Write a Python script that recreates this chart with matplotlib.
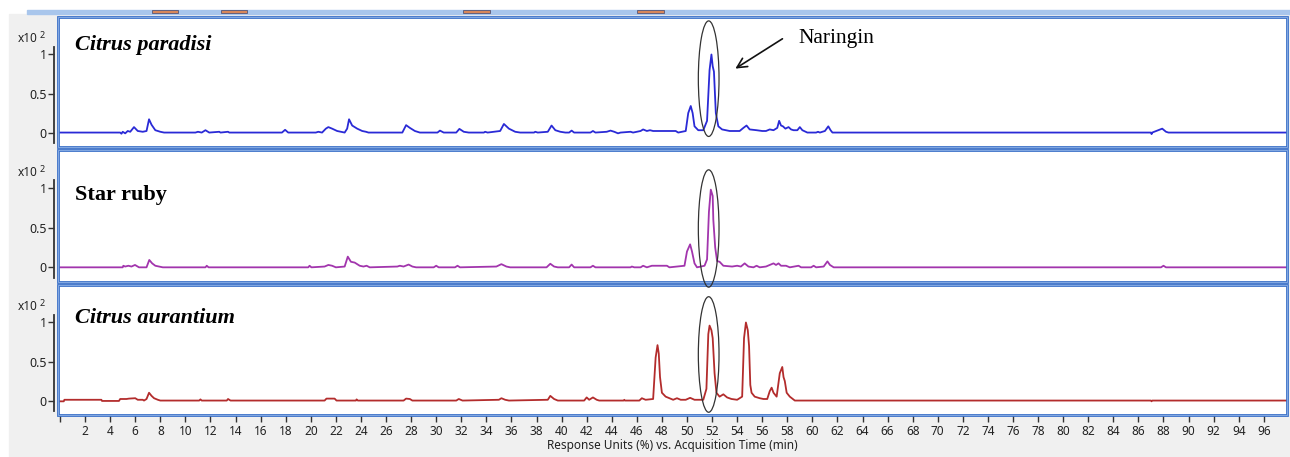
import numpy as np
import matplotlib
matplotlib.use('Agg')
import matplotlib.pyplot as plt
from matplotlib.patches import Ellipse, Rectangle

# chromatogram traces (time in min, response in x10^2 %)
paradisi_t = [0, 4.8, 4.9, 5.0, 5.2, 5.4, 5.6, 5.9, 6.2, 6.6, 6.9, 7.1, 7.3, 7.6, 8.0, 8.3,
              10.8, 11.0, 11.3, 11.6, 11.9, 12.7, 12.8, 13.4, 13.5, 17.7, 17.95, 18.2,
              20.4, 20.6, 20.9, 21.2, 21.4, 21.7, 22.1, 22.7, 22.9, 23.05, 23.3, 23.7, 24.1, 24.4, 24.6,
              27.3, 27.6, 27.9, 28.3, 28.7, 30.1, 30.3, 30.6, 31.6, 31.85, 32.2, 32.6,
              33.8, 33.9, 34.1, 35.1, 35.4, 35.8, 36.3, 36.7, 37.8, 37.9, 38.1,
              38.9, 39.2, 39.5, 39.9, 40.3, 40.6, 40.8, 41.0, 42.3, 42.5, 42.7,
              43.6, 43.9, 44.2, 44.5, 44.7, 45.5, 45.7, 46.3, 46.5, 46.8, 47.05, 47.3,
              49.1, 49.3, 49.9, 50.1, 50.3, 50.45, 50.6, 50.9, 51.3, 51.6, 51.8, 51.95,
              52.05, 52.15, 52.3, 52.5, 52.8, 53.4, 54.2, 54.5, 54.75, 55.0, 55.55, 56.0,
              56.3, 56.6, 56.9, 57.2, 57.35, 57.5, 57.65, 57.85, 58.1, 58.3, 58.5, 58.8,
              59.0, 59.2, 59.6, 60.3, 60.45, 60.6, 61.0, 61.27, 61.45, 61.6,
              87.0, 87.05, 87.1, 87.9, 88.2, 88.4, 97.9]
paradisi_y = [0, 0, -0.015, 0.01, -0.01, 0.02, 0.01, 0.07, 0.02, 0.01, 0.02, 0.17, 0.10, 0.03, 0.01, 0,
              0, 0.01, 0, 0.03, 0, 0.01, 0, 0.01, 0, 0, 0.035, 0,
              0, 0.01, 0, 0.05, 0.07, 0.05, 0.02, 0, 0.05, 0.17, 0.09, 0.05, 0.02, 0.01, 0,
              0, 0.095, 0.06, 0.02, 0, 0, 0.025, 0, 0, 0.047, 0.01, 0,
              0, 0.01, 0, 0.02, 0.11, 0.05, 0.01, 0, 0, 0.01, 0,
              0.01, 0.09, 0.03, 0.01, 0, 0, 0.025, 0, 0, 0.02, 0,
              0.01, 0.025, 0.01, -0.01, 0, 0.01, 0, 0.02, 0.04, 0.02, 0.03, 0.02,
              0.02, 0, 0.02, 0.25, 0.34, 0.25, 0.08, 0.03, 0.03, 0.15, 0.8, 1.0,
              0.85, 0.78, 0.25, 0.08, 0.04, 0.02, 0.02, 0.06, 0.09, 0.04, 0.03, 0.02,
              0.02, 0.04, 0.03, 0.06, 0.15, 0.09, 0.08, 0.05, 0.07, 0.04, 0.03, 0.03,
              0.07, 0.03, 0, 0, 0.01, 0, 0.02, 0.08, 0.03, 0,
              0, -0.02, 0, 0.05, 0.01, 0, 0]

starruby_t = [0, 5.0, 5.05, 5.2, 5.45, 5.7, 5.98, 6.3, 6.9, 7.12, 7.35, 7.6, 7.9, 8.2,
              11.6, 11.7, 11.85, 19.8, 19.9, 20.05, 21.1, 21.4, 21.7, 22.0, 22.7, 22.95, 23.2,
              23.5, 23.9, 24.2, 24.45, 24.7, 26.9, 27.1, 27.4, 27.8, 28.1, 28.4,
              29.8, 30.0, 30.2, 31.5, 31.7, 31.9, 34.8, 35.2, 35.6, 35.9, 38.8, 39.1, 39.4, 39.7,
              40.6, 40.8, 41.0, 42.3, 42.5, 42.7, 45.5, 45.6, 45.8, 46.3, 46.5, 46.8, 47.2, 48.4, 48.6,
              49.8, 50.0, 50.25, 50.4, 50.6, 50.8, 51.4, 51.6, 51.75, 51.9, 52.05, 52.1, 52.25,
              52.4, 52.6, 52.9, 53.6, 54.0, 54.3, 54.6, 54.9, 55.3, 55.55, 55.8, 56.3, 56.6,
              56.9, 57.1, 57.3, 57.5, 57.9, 58.2, 58.9, 59.1, 59.9, 60.1, 60.3, 60.9, 61.2, 61.4, 61.7,
              87.8, 88.0, 88.2, 97.9]
starruby_y = [0, 0, 0.02, 0.01, 0.02, 0.01, 0.03, 0, 0, 0.093, 0.05, 0.02, 0.01, 0,
              0, 0.02, 0, 0, 0.02, 0, 0.01, 0.03, 0.02, 0, 0.01, 0.135, 0.07,
              0.06, 0.02, 0.01, 0.02, 0, 0.01, 0.02, 0.01, 0.035, 0.01, 0,
              0, 0.02, 0, 0, 0.02, 0, 0.01, 0.04, 0.01, 0, 0, 0.045, 0.01, 0,
              0, 0.035, 0, 0, 0.02, 0, 0, 0.01, 0, 0, 0.02, 0, 0.02, 0.02, 0,
              0.02, 0.2, 0.29, 0.2, 0.05, 0, 0.02, 0.1, 0.7, 0.98, 0.9, 0.6, 0.25,
              0.08, 0.07, 0.02, 0.01, 0.02, 0.01, 0.05, 0.01, 0, 0.02, 0, 0.01, 0.03,
              0.05, 0.03, 0.05, 0.02, 0.02, 0, 0.02, 0, 0, 0.02, 0, 0.01, 0.075, 0.03, 0,
              0, 0.02, 0, 0]

aurantium_t = [0, 0.3, 0.35, 3.3, 3.35, 4.7, 4.8, 5.3, 5.5, 6.0, 6.2, 6.6, 6.7, 6.9, 7.1, 7.3, 7.5, 7.8, 8.0,
               11.1, 11.2, 11.3, 13.3, 13.4, 13.6, 21.1, 21.25, 21.9, 22.05, 23.6, 23.65, 23.75,
               27.4, 27.6, 27.9, 28.1, 31.6, 31.8, 32.1, 35.0, 35.2, 35.5, 35.8, 38.9, 39.1, 39.4, 39.7,
               41.8, 42.0, 42.2, 42.5, 42.8, 43.0, 44.95, 45.0, 45.05, 46.2, 46.4, 46.7,
               47.3, 47.5, 47.65, 47.75, 47.85, 48.0, 48.3, 48.6, 48.9, 49.2, 49.5, 49.9, 50.25, 50.6,
               51.3, 51.55, 51.7, 51.8, 51.95, 52.05, 52.2, 52.35, 52.6, 52.9, 53.2, 53.55,
               54.0, 54.4, 54.55, 54.7, 54.85, 54.95, 55.05, 55.15, 55.4, 55.8, 56.1, 56.4,
               56.6, 56.75, 56.9, 57.15, 57.4, 57.6, 57.7, 57.8, 57.95, 58.2, 58.6,
               87.0, 87.05, 87.1, 97.9]
aurantium_y = [-0.01, -0.01, 0.01, 0.01, -0.005, -0.005, 0.02, 0.02, 0.025, 0.03, 0.01, 0.01, 0, 0.02, 0.1, 0.06, 0.03, 0.01, 0,
               0, 0.015, 0, 0, 0.02, 0, 0, 0.025, 0.025, 0, 0, 0.015, 0,
               0, 0.025, 0.02, 0, 0, 0.02, 0, 0.01, 0.03, 0.01, 0, 0.01, 0.06, 0.02, 0,
               0, 0.04, 0.01, 0.04, 0.01, 0, 0, 0.01, 0, 0, 0.03, 0.01,
               0.02, 0.55, 0.71, 0.6, 0.3, 0.1, 0.05, 0.03, 0.01, 0.03, 0.01, 0.01, 0.035, 0.01,
               0.01, 0.15, 0.85, 0.96, 0.9, 0.8, 0.35, 0.1, 0.05, 0.08, 0.04, 0.02,
               0.01, 0.05, 0.8, 1.0, 0.9, 0.7, 0.2, 0.1, 0.05, 0.03, 0.02, 0.02,
               0.12, 0.165, 0.1, 0.05, 0.35, 0.43, 0.3, 0.25, 0.1, 0.05, 0,
               0, -0.01, 0, 0]

names = ['Citrus paradisi', 'Star ruby', 'Citrus aurantium']
colors = ['#2a2ad6', '#a235ad', '#b32c2c']
ellipse_y = [0.69, 0.49, 0.59]
xticks = list(range(0, 97, 2))

W, H = 1290, 457
fig = plt.figure(figsize=(W / 100, H / 100), dpi=100)
fig.patch.set_facecolor('white')

# window chrome: gray background and top bar
fig.patches.append(Rectangle((9 / W, 0), 1, (H - 14) / H, transform=fig.transFigure,
                             color='#f0f0f0', zorder=-10))
fig.patches.append(Rectangle((27 / W, (H - 14) / H), 1, 4 / H, transform=fig.transFigure,
                             color='#a9c6ec', zorder=-9))
for x0, x1 in [(152, 178), (221, 247), (463, 490), (637, 664)]:
    fig.patches.append(Rectangle((x0 / W, (H - 13) / H), (x1 - x0) / W, 3 / H,
                                 transform=fig.transFigure, fc='#d9875a', ec='#555577', lw=0.6, zorder=-8))

panels = [(17, 147), (150, 282), (285, 415)]
traces = [(paradisi_t, paradisi_y), (starruby_t, starruby_y), (aurantium_t, aurantium_y)]
text_base = [0.746, 0.62, 0.705]

axes = []
for i, (top, bot) in enumerate(panels):
    ax = fig.add_axes([58 / W, (H - bot) / H, 1229 / W, (bot - top) / H])
    axes.append(ax)
    t, y = traces[i]
    ax.plot(t, y, color=colors[i], lw=1.3)
    ax.set_xlim(-0.16, 97.85)
    ax.set_ylim(-0.185, 1.48)
    for s in ['top', 'right', 'bottom']:
        ax.spines[s].set_visible(False)
    ax.spines['left'].set_position(('outward', 3))
    ax.spines['left'].set_bounds(-0.13, 1.1)
    ax.spines['left'].set_color('#333333')
    ax.spines['left'].set_linewidth(1.3)
    ax.set_yticks([0, 0.5, 1])
    ax.set_yticklabels(['0', '0.5', '1'], family='Noto Sans')
    ax.tick_params(axis='y', direction='out', length=4, width=1, colors='#333333',
                   labelsize=9, labelcolor='#222222', pad=1)
    # double blue frame
    ax.add_patch(Rectangle((0, 0), 1, 1, transform=ax.transAxes, fill=False,
                           ec='#3a70c8', lw=2.0, clip_on=False, zorder=5))
    ax.add_patch(Rectangle((0, 0), 1, 1, transform=ax.transAxes, fill=False,
                           ec='#8fb2e6', lw=0.6, clip_on=False, zorder=5.5))
    ax.add_patch(Ellipse((51.73, ellipse_y[i]), 1.65, 1.48, fill=False, ec='#333333',
                         lw=0.9, clip_on=False, zorder=6))
    style = 'italic' if i != 1 else 'normal'
    ax.text(0.0138, text_base[i], names[i], transform=ax.transAxes, fontsize=16,
            family='Liberation Serif', weight='bold', style=style, va='baseline')
    # multiplier label
    fig.text(18 / W, (H - top - 22) / H, 'x10', fontsize=8.5, family='Noto Sans',
             color='#222222', va='center')
    fig.text(40 / W, (H - top - 19) / H, '2', fontsize=6.5, family='Noto Sans',
             color='#222222', va='center')
    if i < 2:
        ax.set_xticks([])
    else:
        ax.set_xticks(xticks)
        ax.set_xticklabels([''] + [str(v) for v in xticks[1:]], family='Noto Sans')
        ax.tick_params(axis='x', direction='out', length=5, width=1, colors='#333333',
                       labelsize=8.5, labelcolor='#222222', pad=2)
        ax.set_xlabel('Response Units (%) vs. Acquisition Time (min)', fontsize=8.5,
                      family='Noto Sans', color='#222222', labelpad=1)

axes[1].set_zorder(3)

# Naringin annotation
axes[0].annotate('', xy=(53.67, 0.80), xytext=(57.8, 1.22),
                 arrowprops=dict(arrowstyle='->,head_length=0.7,head_width=0.35', lw=1.2, color='#111111'))
axes[0].text(58.9, 1.21, 'Naringin', fontsize=15.5, family='Liberation Serif', va='center')

fig.savefig('out.png', dpi=100)
